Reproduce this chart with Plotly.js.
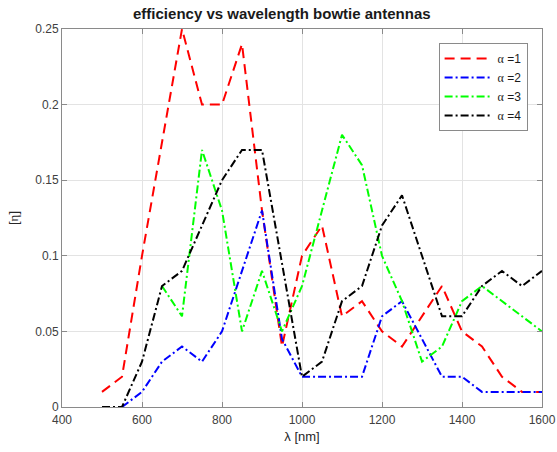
<!DOCTYPE html>
<html>
<head>
<meta charset="utf-8">
<script src="https://cdn.plot.ly/plotly-3.0.1.min.js"></script>
<style>html,body{margin:0;padding:0;background:#fff;}#chart{width:557px;height:452px;}</style>
</head>
<body>
<div id="chart"></div>
<script>
const wavelength = [500,550,600,650,700,750,800,850,900,950,1000,1050,1100,1150,1200,1250,1300,1350,1400,1450,1500,1550,1600];
const eta1 = [0.01,0.02,0.1,0.175,0.25,0.2,0.2,0.24,0.13,0.04,0.1,0.12,0.06,0.07,0.05,0.04,0.06,0.08,0.05,0.04,0.02,0.01,0.01];
const eta2 = [null,0,0.01,0.03,0.04,0.03,0.05,0.09,0.13,0.045,0.02,0.02,0.02,0.02,0.06,0.07,0.045,0.02,0.02,0.01,0.01,0.01,0.01];
const eta3 = [null,null,null,0.08,0.06,0.17,0.13,0.05,0.09,0.05,0.08,0.13,0.18,0.16,0.1,0.07,0.03,0.04,0.07,0.08,0.07,0.06,0.05];
const eta4 = [0,0,0.03,0.08,0.09,0.12,0.15,0.17,0.17,0.095,0.02,0.03,0.07,0.08,0.12,0.14,0.1,0.06,0.06,0.08,0.09,0.08,0.09];
const seriesNames = ['α =1','α =2','α =3','α =4'];
const xTicks = [400,600,800,1000,1200,1400,1600];
const yTicks = [0,0.05,0.1,0.15,0.2,0.25];
const yTickText = ['0','0.05','0.1','0.15','0.2','0.25'];

const alphaLabel = s => s.replace('α', '<span style="font-family:\'Liberation Serif\',serif">α</span>');
const styles = [
  {color:'#ff0000', dash:'10px,6px'},
  {color:'#0000ff', dash:'8px,3px,2px,3px'},
  {color:'#00ff00', dash:'8px,3px,2px,3px'},
  {color:'#000000', dash:'8px,3px,2px,3px'}
];
const ys = [eta1, eta2, eta3, eta4];
const traces = ys.map((y,i) => ({
  x: wavelength, y: y, type:'scatter', mode:'lines',
  name: alphaLabel(seriesNames[i]),
  line: {color: styles[i].color, width: 2, dash: styles[i].dash},
  connectgaps: false
}));

const axisCommon = {
  showline:true, linecolor:'#8a8a8a', linewidth:1, mirror:'ticks',
  ticks:'inside', ticklen:5, tickcolor:'#8a8a8a',
  showgrid:true, gridcolor:'#e3e3e3', gridwidth:1, zeroline:false,
  tickfont:{family:'Liberation Sans, Arial, sans-serif', size:12, color:'#404040'}
};

const layout = {
  width:557, height:452,
  margin:{l:62, r:15, t:29, b:45},
  paper_bgcolor:'#ffffff', plot_bgcolor:'#ffffff',
  title:{text:'<b>efficiency vs wavelength bowtie antennas</b>', x:0.506, xanchor:'center', y:0.97, yanchor:'middle',
    font:{family:'Liberation Sans, Arial, sans-serif', size:15, color:'#1a1a1a'}},
  xaxis: Object.assign({}, axisCommon, {range:[400,1600], tickvals:xTicks, ticktext:xTicks.map(String),
    ticklabelstandoff:2,
    title:{text:'λ [nm]', standoff:5, font:{family:'Liberation Sans, Arial, sans-serif', size:13, color:'#262626'}}}),
  yaxis: Object.assign({}, axisCommon, {range:[0,0.25], tickvals:yTicks, ticktext:yTickText,
    title:{text:'[<span style="font-family:\'Liberation Serif\',serif">η</span>]', standoff:13, font:{family:'Liberation Sans, Arial, sans-serif', size:13, color:'#262626'}}}),
  showlegend:true,
  legend:{x:0.97, y:0.963, xanchor:'right', yanchor:'top', bgcolor:'#ffffff', bordercolor:'#8a8a8a', borderwidth:1,
    font:{family:'Liberation Sans, Arial, sans-serif', size:12, color:'#1a1a1a'}, itemwidth:48, tracegroupgap:0}
};
Plotly.newPlot('chart', traces, layout, {displayModeBar:false, staticPlot:true});
</script>
</body>
</html>
